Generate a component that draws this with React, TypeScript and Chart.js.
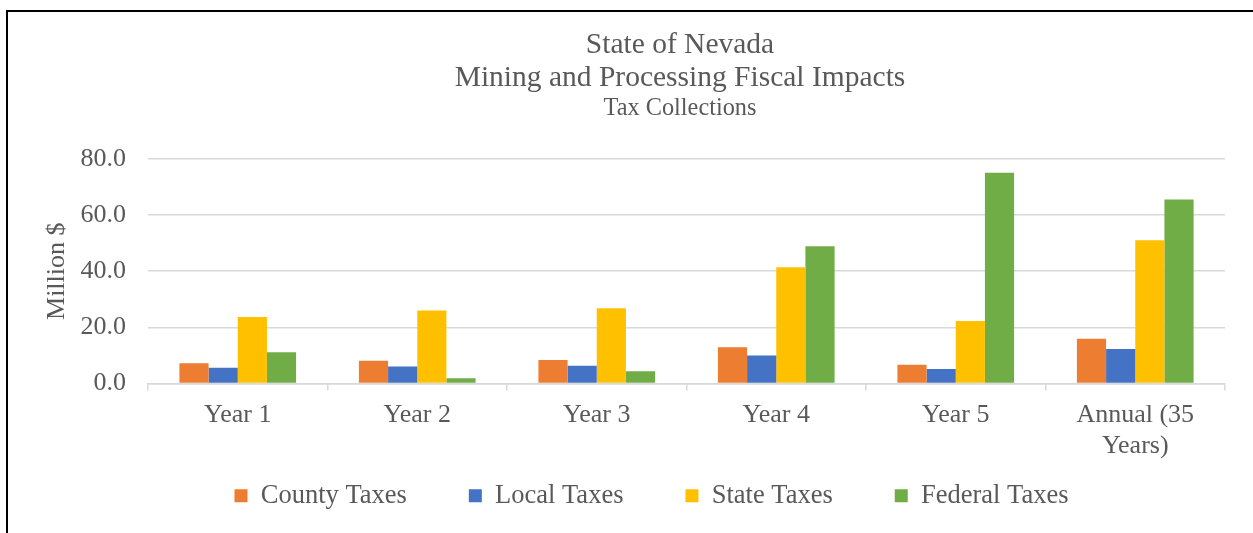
import React, { useEffect, useRef } from 'react';
import { Chart, registerables } from 'chart.js';

Chart.register(...registerables);

// ---- Data ----
const categories: (string | string[])[] = ['Year 1', 'Year 2', 'Year 3', 'Year 4', 'Year 5', ['Annual (35', 'Years)']];
const countyTaxes = [7.2, 8.1, 8.4, 12.9, 6.7, 15.9];
const localTaxes = [5.6, 6.1, 6.3, 10.0, 5.2, 12.3];
const stateTaxes = [23.7, 26.0, 26.8, 41.4, 22.3, 51.0];
const federalTaxes = [11.1, 1.9, 4.4, 48.9, 75.1, 65.6];
const seriesNames = ['County Taxes', 'Local Taxes', 'State Taxes', 'Federal Taxes'];
const titleLines = ['State of Nevada', 'Mining and Processing Fiscal Impacts'];
const subtitleText = 'Tax Collections';
const yAxisTitle = 'Million $';
const yMin = 0;
const yMax = 80;
const yStep = 20;

// ---- Styles ----
const FONT = "'Liberation Serif', 'Times New Roman', Times, serif";
const TEXT = '#595959';
const GRID = '#d9d9d9';
const COLORS = ['#ED7D31', '#4472C4', '#FFC000', '#70AD47'];

const TITLE_CX = 680;
const LEGEND_CX = 651.5;

const centerBoxesPlugin = {
  id: 'centerBoxes',
  afterLayout(chart: any) {
    for (const box of chart.boxes) {
      if (box.axis) continue; // scales
      const target = box === chart.legend ? LEGEND_CX : TITLE_CX;
      const d = target - (box.left + box.right) / 2;
      box.left += d;
      box.right += d;
    }
    // let the two-line category labels extend below the x-axis box without clipping
    const xs = chart.scales.x;
    if (xs) xs.bottom = xs.top + 90;
  },
};

export default function App() {
  const ref = useRef<HTMLCanvasElement>(null);

  useEffect(() => {
    const seriesValues = [countyTaxes, localTaxes, stateTaxes, federalTaxes];
    const chart = new Chart(ref.current as HTMLCanvasElement, {
      type: 'bar',
      data: {
        labels: categories as any,
        datasets: seriesNames.map((name, i) => ({
          label: name,
          data: seriesValues[i],
          backgroundColor: COLORS[i],
          borderWidth: 0,
          categoryPercentage: 0.65,
          barPercentage: 1.0,
        })),
      },
      options: {
        responsive: true,
        maintainAspectRatio: false,
        animation: false,
        events: [],
        layout: { padding: { top: 0, left: 0, right: 28, bottom: 14 } },
        plugins: {
          title: {
            display: true,
            text: titleLines,
            color: TEXT,
            font: { family: FONT, size: 29.5, weight: 'normal', lineHeight: 33 / 29.5 },
            padding: { top: 28.5, bottom: 0 },
          },
          subtitle: {
            display: true,
            text: subtitleText,
            color: TEXT,
            font: { family: FONT, size: 24.3, weight: 'normal', lineHeight: 1.2 },
            padding: { top: 0, bottom: 35.3 },
          },
          legend: {
            position: 'bottom',
            labels: {
              color: TEXT,
              font: { family: FONT, size: 26.5 },
              boxWidth: 13,
              boxHeight: 13,
              padding: 62,
            },
          },
          tooltip: { enabled: false },
        },
        scales: {
          x: {
            grid: {
              display: true,
              drawOnChartArea: false,
              drawTicks: true,
              tickLength: 7,
              color: GRID,
              lineWidth: 1.5,
              offset: true,
            },
            border: { display: true, color: GRID, width: 1.5 },
            ticks: {
              color: TEXT,
              font: { family: FONT, size: 26, lineHeight: 1.2 },
              padding: 9,
              maxRotation: 0,
              autoSkip: false,
            },
            afterFit: (s: any) => {
              s.height = 37;
            },
          },
          y: {
            min: yMin,
            max: yMax,
            ticks: {
              stepSize: yStep,
              color: TEXT,
              font: { family: FONT, size: 26 },
              padding: 22,
              callback: (v: any) => Number(v).toFixed(1),
            },
            grid: { color: GRID, lineWidth: 1.5, drawTicks: false },
            border: { display: false },
            title: {
              display: true,
              text: yAxisTitle,
              color: TEXT,
              font: { family: FONT, size: 26, lineHeight: 1.2 },
              padding: { top: 42, bottom: 0 },
            },
            afterFit: (s: any) => {
              s.width = 148;
            },
          },
        },
      } as any,
      plugins: [centerBoxesPlugin],
    });
    return () => chart.destroy();
  }, []);

  return (
    <div style={{ position: 'fixed', left: 0, top: 0, width: 1253, height: 533, overflow: 'hidden', background: '#fff' }}>
      <div
        style={{
          position: 'absolute',
          left: 6,
          top: 10,
          width: 1300,
          height: 600,
          borderLeft: '2px solid #000',
          borderTop: '2px solid #000',
        }}
      />
      <div style={{ position: 'absolute', left: 0, top: 0, width: 1253, height: 533 }}>
        <canvas ref={ref} />
      </div>
    </div>
  );
}
